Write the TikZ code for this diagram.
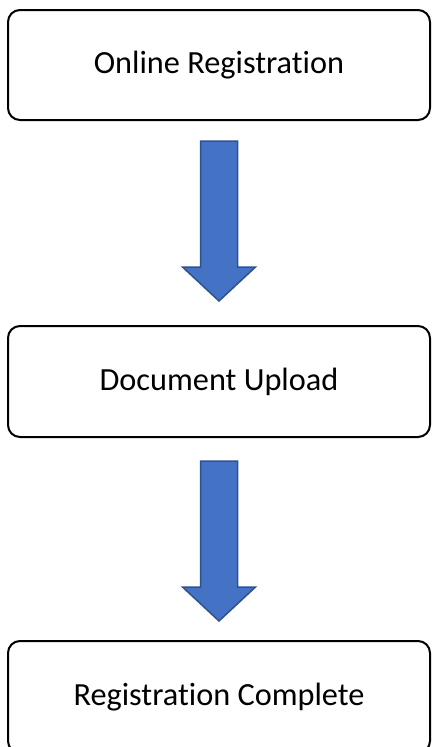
\documentclass[tikz,border=0pt]{standalone}
\usepackage{fontspec}
\setmainfont[Ligatures=NoCommon]{Carlito}
\usetikzlibrary{calc}
\definecolor{arrfill}{HTML}{4472C4}
\definecolor{arrline}{HTML}{2F528F}
\tikzset{
  box/.style={draw=black, line width=2pt, rounded corners=12pt, minimum width=422pt, inner sep=0pt, font=\fontsize{32.3}{36}\selectfont, fill=white},
  blockarrow/.style={fill=arrfill, draw=arrline, line width=1.5pt, line join=miter}
}
\begin{document}
\begin{tikzpicture}[x=1pt,y=-1pt]
\useasboundingbox (0,0) rectangle (432,747);
\clip (0,0) rectangle (432,747);
\node[box, minimum height=110pt] (b1) at (219,65) {\raisebox{-3pt}{Online Registration}};
\node[box, minimum height=111pt] (b2) at (219,381.5) {\raisebox{-3pt}{Document Upload}};
\node[box, minimum height=112pt] (b3) at (219,697) {\raisebox{-4pt}{Registration Complete}};
% arrow 1
\draw[blockarrow] ($(b1.south)+(-18.5,20)$) -- ($(b1.south)+(18.5,20)$) -- ($(b1.south)+(18.5,146)$) -- ($(b1.south)+(36.5,146)$)
  -- ($(b2.north)+(0,-24)$) -- ($(b1.south)+(-36.5,146)$) -- ($(b1.south)+(-18.5,146)$) -- cycle;
% arrow 2
\draw[blockarrow] ($(b2.south)+(-18.5,23)$) -- ($(b2.south)+(18.5,23)$) -- ($(b2.south)+(18.5,149)$) -- ($(b2.south)+(36.5,149)$)
  -- ($(b3.north)+(0,-19)$) -- ($(b2.south)+(-36.5,149)$) -- ($(b2.south)+(-18.5,149)$) -- cycle;
\end{tikzpicture}
\end{document}
